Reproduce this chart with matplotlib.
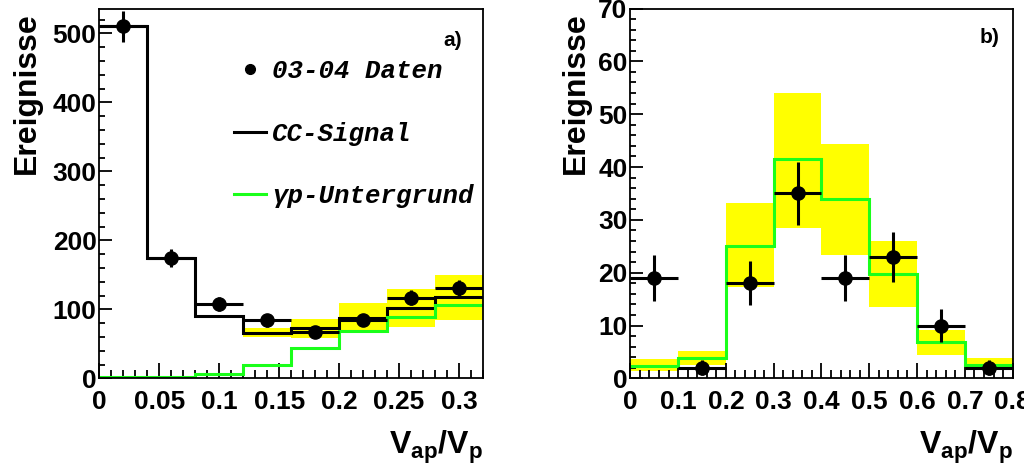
import matplotlib
matplotlib.use("Agg")
import matplotlib.pyplot as plt
from matplotlib.ticker import MultipleLocator, FixedLocator, FixedFormatter
from matplotlib.font_manager import FontProperties

plt.rcParams["font.family"] = "Liberation Sans"
plt.rcParams["font.weight"] = "bold"
plt.rcParams["mathtext.fontset"] = "custom"
plt.rcParams["mathtext.rm"] = "Liberation Sans:bold"
plt.rcParams["mathtext.it"] = "Liberation Sans:bold"
plt.rcParams["mathtext.bf"] = "Liberation Sans:bold"

# ---- panel a): full V_ap/V_p range ----
edges_a = [0.0, 0.04, 0.08, 0.12, 0.16, 0.20, 0.24, 0.28, 0.32]
centers_a = [0.02, 0.06, 0.10, 0.14, 0.18, 0.22, 0.26, 0.30]
data_a = [510, 175, 108, 84, 67, 85, 117, 131]
data_err_a = [23, 13, 10, 9, 8, 9, 11, 11]
mc_a = [511, 175, 90, 66, 73, 87, 102, 118]
band_lo_a = [511, 175, 87, 60, 58, 70, 74, 85]
band_hi_a = [511, 175, 91, 73, 86, 109, 130, 150]
gp_a = [2, 2.5, 6, 19, 44, 68, 89, 106]
xticks_a = [0, 0.05, 0.1, 0.15, 0.2, 0.25, 0.3]
xlabels_a = ["0", "0.05", "0.1", "0.15", "0.2", "0.25", "0.3"]

# ---- panel b): photoproduction enriched sample ----
edges_b = [0.0, 0.1, 0.2, 0.3, 0.4, 0.5, 0.6, 0.7, 0.8]
centers_b = [0.05, 0.15, 0.25, 0.35, 0.45, 0.55, 0.65, 0.75]
data_b = [19, 2, 18, 35, 19, 23, 10, 2]
data_err_b = [4.4, 1.4, 4.2, 5.9, 4.4, 4.8, 3.1, 1.4]
band_lo_b = [1.4, 2.5, 17.3, 28.5, 23.4, 13.5, 4.4, 1.7]
band_hi_b = [3.6, 5.2, 33.1, 54.0, 44.4, 26.0, 9.1, 3.8]
gp_b = [2.4, 3.8, 25.1, 41.5, 34.0, 19.8, 6.8, 2.5]
xticks_b = [0, 0.1, 0.2, 0.3, 0.4, 0.5, 0.6, 0.7, 0.8]
xlabels_b = ["0", "0.1", "0.2", "0.3", "0.4", "0.5", "0.6", "0.7", "0.8"]

YELLOW = "#ffff00"
GREEN = "#1aff1a"
LW = 2.2

fig = plt.figure(figsize=(10.24, 4.73), dpi=100)
ax_a = fig.add_axes([0.097, 0.2, 0.3747, 0.782])
ax_b = fig.add_axes([0.6155, 0.2, 0.3734, 0.782])


def band(ax, edges, lo, hi):
    widths = [edges[i + 1] - edges[i] for i in range(len(lo))]
    heights = [h - l for l, h in zip(lo, hi)]
    ax.bar(edges[:-1], heights, bottom=lo, width=widths, align="edge",
           color=YELLOW, linewidth=0, zorder=1)


def style(ax, xticks, xlabels, xminor, ymajor, yminor, ylab_x):
    ax.xaxis.set_major_locator(FixedLocator(xticks))
    ax.xaxis.set_major_formatter(FixedFormatter(xlabels))
    ax.xaxis.set_minor_locator(MultipleLocator(xminor))
    ax.yaxis.set_major_locator(MultipleLocator(ymajor))
    ax.yaxis.set_minor_locator(MultipleLocator(yminor))
    ax.tick_params(axis="both", which="both", direction="in",
                   top=False, right=False, width=1.3, labelsize=19)
    ax.tick_params(axis="x", which="major", length=11, pad=8)
    ax.tick_params(axis="x", which="minor", length=5.5)
    ax.tick_params(axis="y", which="major", length=9, pad=2)
    ax.tick_params(axis="y", which="minor", length=4.5)
    for s in ax.spines.values():
        s.set_linewidth(1.3)
    ax.set_ylabel("Ereignisse", fontsize=23, fontweight="bold", loc="top")
    ax.yaxis.set_label_coords(ylab_x, 0.99)
    ax.set_xlabel(r"$\mathbf{V}_{\mathbf{ap}}\mathbf{/V}_{\mathbf{p}}$",
                  fontsize=23, loc="right")
    ax.xaxis.set_label_coords(1.0, -0.135)


# panel a
band(ax_a, edges_a, band_lo_a, band_hi_a)
st_mc = ax_a.stairs(mc_a, edges_a, color="black", linewidth=LW,
                    baseline=None, zorder=2)
st_gp = ax_a.stairs(gp_a, edges_a, color=GREEN, linewidth=LW,
                    baseline=None, zorder=2)
ax_a.errorbar(centers_a, data_a, yerr=data_err_a, xerr=0.02, fmt="o",
              color="black", markersize=9.5, elinewidth=LW,
              capsize=0, zorder=3)
ax_a.set_xlim(0, 0.32)
ax_a.set_ylim(0, 536)
style(ax_a, xticks_a, xlabels_a, 0.01, 100, 20, -0.151)
ax_a.text(0.92, 0.914, "a)", transform=ax_a.transAxes, fontsize=15,
          fontweight="bold", ha="center", va="center")

leg_font = FontProperties(family=["Liberation Mono", "DejaVu Sans"],
                          weight="bold", style="italic", size=18.5)
dot, = ax_a.plot([], [], "o", color="black", markersize=7)
ax_a.legend([dot, st_mc, st_gp],
            ["03-04 Daten", "CC-Signal", "\u03b3p-Untergrund"],
            prop=leg_font, frameon=False, loc="upper left",
            bbox_to_anchor=(0.35, 0.863), borderpad=0, borderaxespad=0,
            handlelength=1.25, handletextpad=0.25, labelspacing=1.5)

# panel b
band(ax_b, edges_b, band_lo_b, band_hi_b)
ax_b.stairs(gp_b, edges_b, color=GREEN, linewidth=LW, baseline=None, zorder=2)
ax_b.errorbar(centers_b, data_b, yerr=data_err_b, xerr=0.05, fmt="o",
              color="black", markersize=9.5, elinewidth=LW,
              capsize=0, zorder=3)
ax_b.set_xlim(0, 0.8)
ax_b.set_ylim(0, 70)
style(ax_b, xticks_b, xlabels_b, 0.02, 10, 2, -0.104)
ax_b.text(0.94, 0.922, "b)", transform=ax_b.transAxes, fontsize=15,
          fontweight="bold", ha="center", va="center")

fig.savefig("out.png", dpi=100)
